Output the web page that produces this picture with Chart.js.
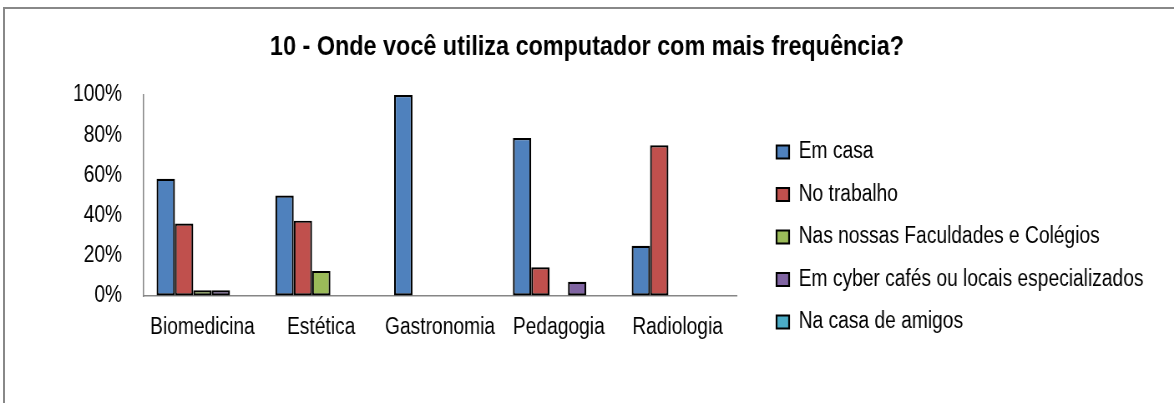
<!DOCTYPE html>
<html>
<head>
<meta charset="utf-8">
<script src="https://cdn.jsdelivr.net/npm/chart.js@4"></script>
<style>
  html, body { margin: 0; padding: 0; background: #fff; overflow: hidden; width: 1174px; height: 403px; }
  #frame { position: absolute; left: 3px; top: 7px; width: 1400px; height: 600px;
           border-left: 2px solid #888; border-top: 2px solid #888; }
  #c { position: absolute; left: 0; top: 0; transform: scaleX(0.835); transform-origin: 0 0; }
</style>
</head>
<body>
<div id="frame"></div>
<canvas id="c" width="1406" height="403"></canvas>
<script>
const titleText = "10 - Onde você utiliza computador com mais frequência?";
const categories = ["Biomedicina", "Estética", "Gastronomia", "Pedagogia", "Radiologia"];
const seriesNames = ["Em casa", "No trabalho", "Nas nossas Faculdades e Colégios",
                     "Em cyber cafés ou locais especializados", "Na casa de amigos"];
const emCasa      = [58.3, 50.0, 100, 78.6, 25.0];
const noTrabalho  = [36.1, 37.5, 0, 14.3, 75.0];
const faculdades  = [2.8, 12.5, 0, 0, 0];
const cyberCafes  = [2.8, 0, 0, 7.1, 0];
const casaAmigos  = [0, 0, 0, 0, 0];
const yTicks = [0, 20, 40, 60, 80, 100];
const colors = ["#4F81BD", "#C0504D", "#9BBB59", "#8064A2", "#4BACC6"];

const W = 1406;
const FONT = '"Liberation Sans", Arial, sans-serif';
const labelSize = 23;
const legendPad = 19.5;
const boxW = 15;
const chartLeft = 171.3, chartRight = 882.6, chartBottom = 296;
const legendLeft = 910.5;

const mctx = document.createElement('canvas').getContext('2d');
mctx.font = labelSize + 'px ' + FONT;
const tw = Math.max(...seriesNames.map(n => mctx.measureText(n).width));
const legendW = legendPad + boxW + labelSize / 2 + tw + 10;
const sidePad = Math.max(0, W - legendLeft - legendW);

const seriesData = [emCasa, noTrabalho, faculdades, cyberCafes, casaAmigos];

new Chart(document.getElementById('c'), {
  type: 'bar',
  data: {
    labels: categories,
    datasets: seriesNames.map((name, i) => ({
      label: name,
      data: seriesData[i],
      backgroundColor: colors[i],
      borderColor: '#000',
      borderWidth: 2.2,
      borderSkipped: false,
      categoryPercentage: 0.7725,
      barPercentage: 1.0
    }))
  },
  options: {
    responsive: false,
    animation: false,
    devicePixelRatio: 1,
    layout: { padding: { left: sidePad, top: 0, bottom: 0, right: sidePad } },
    plugins: {
      tooltip: { enabled: false },
      title: {
        display: true,
        text: titleText,
        color: '#000',
        font: { family: FONT, size: 28, weight: 'bold' },
        padding: { top: 30, bottom: 31.4 }
      },
      legend: {
        display: true,
        position: 'right',
        align: 'center',
        maxWidth: 1000,
        title: { display: true, text: ' ', font: { size: 1 }, padding: { top: 69.8, bottom: 0 } },
        labels: {
          color: '#000',
          font: { family: FONT, size: labelSize },
          boxWidth: boxW,
          boxHeight: 13,
          padding: legendPad
        }
      }
    },
    scales: {
      x: {
        grid: { display: true, drawOnChartArea: false, drawTicks: false },
        border: { display: true, color: '#868686', width: 1.5 },
        ticks: { color: '#000', font: { family: FONT, size: labelSize }, padding: 18, maxRotation: 0, autoSkip: false },
        afterFit: s => { s.height = 403 - chartBottom; }
      },
      y: {
        min: 0, max: 100,
        afterBuildTicks: s => { s.ticks = yTicks.map(v => ({ value: v })); },
        grid: { display: true, drawOnChartArea: false, drawTicks: false },
        border: { display: true, color: '#868686', width: 1.5 },
        ticks: { color: '#000', font: { family: FONT, size: labelSize }, padding: 25,
                 callback: v => v + '%' },
        afterFit: s => { s.width = chartLeft - sidePad; }
      },
      spacer: {
        type: 'linear',
        position: 'right',
        display: true,
        grid: { display: false },
        border: { display: false },
        ticks: { display: false },
        afterFit: s => { s.width = legendLeft - chartRight; }
      }
    }
  }
});
</script>
</body>
</html>
